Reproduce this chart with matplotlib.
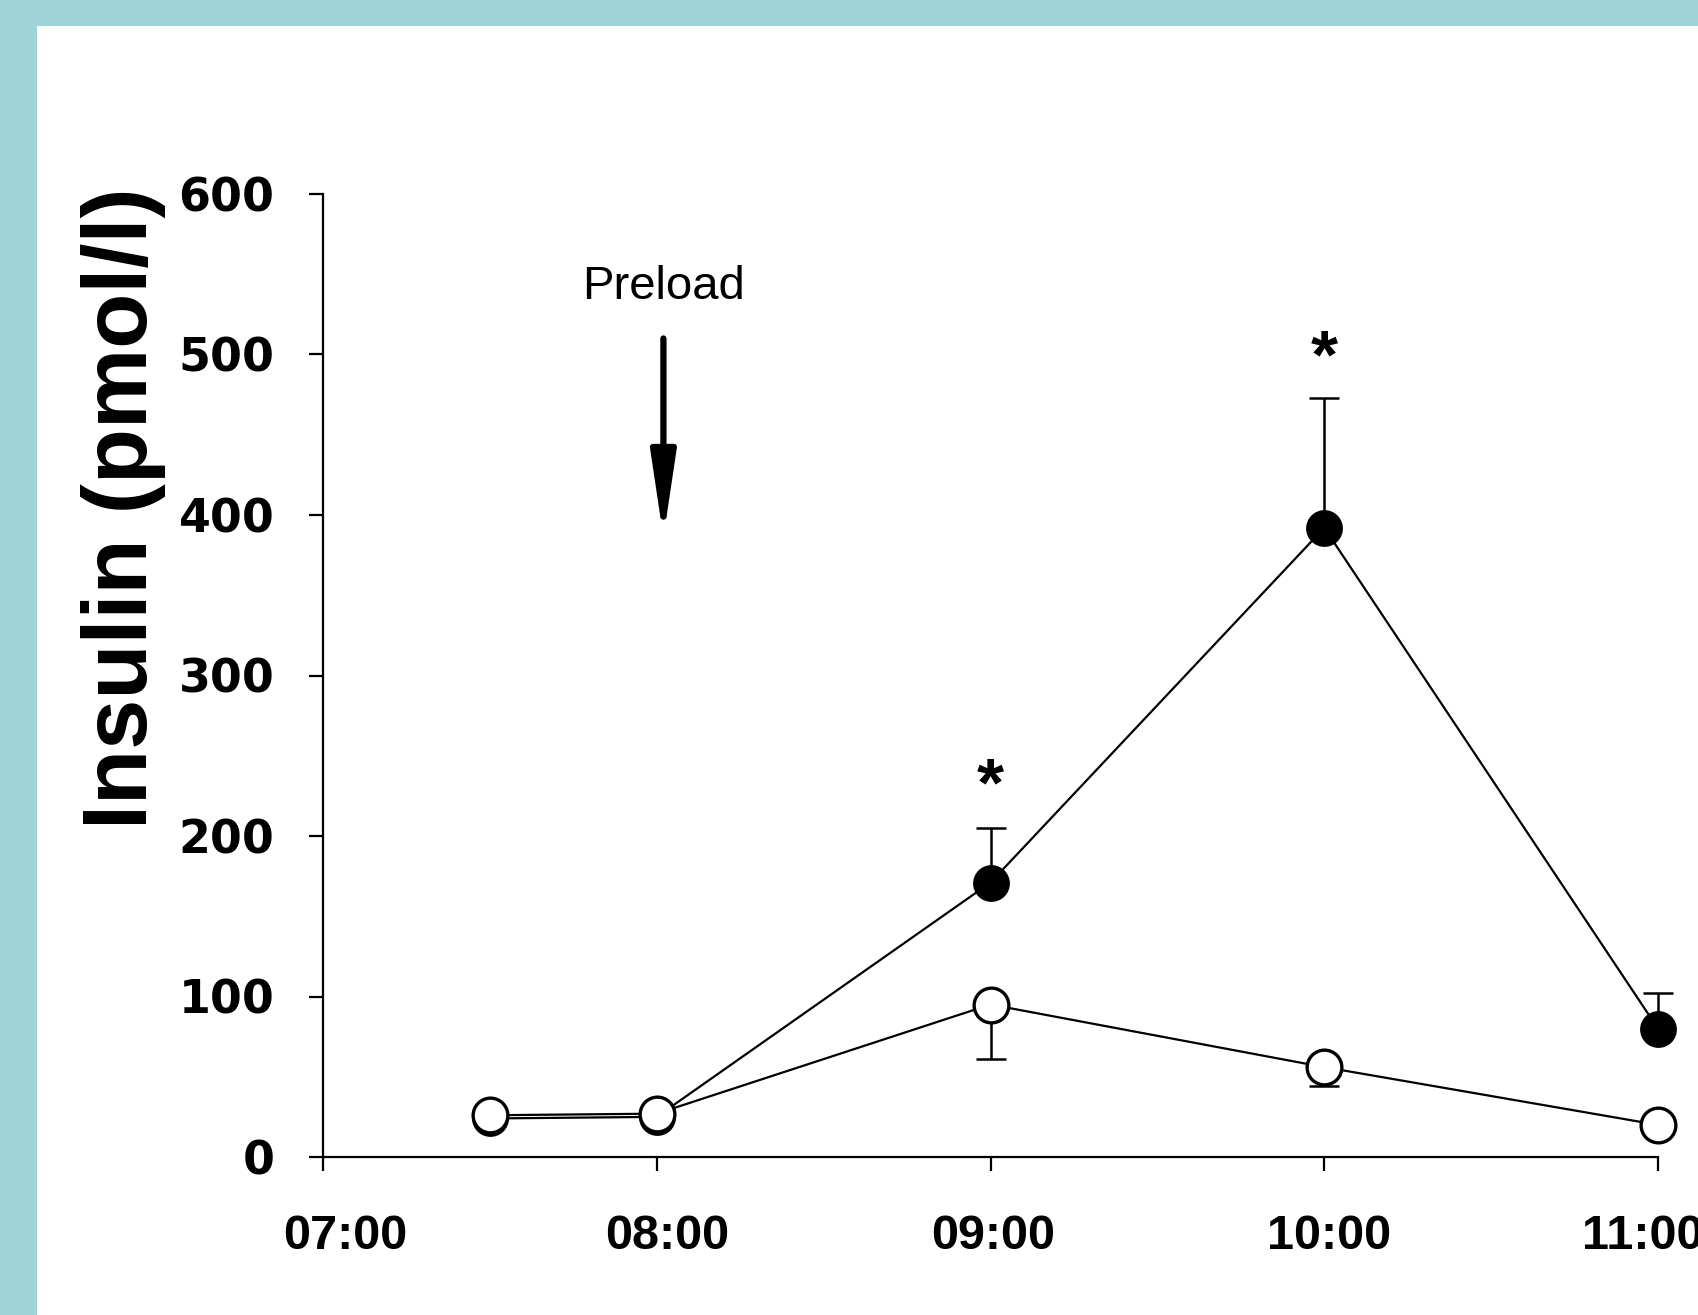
import matplotlib.pyplot as plt
from matplotlib.patches import Rectangle
import matplotlib.transforms as mtransforms

# Values (time in hours, insulin in pmol/l)

times = [7.5, 8, 9, 10, 11]
insulin_filled = [24, 25, 171, 392, 80]
filled_err_up = [0, 0, 34, 81, 22]
insulin_open = [26, 27, 95, 56, 20]
open_err_down = [0, 0, 34, 12, 0]

star_x = [9, 10]
star_y = [236, 503]

xtick_vals = [7, 8, 9, 10, 11]
xtick_labels = ["07:00", "08:00", "09:00", "10:00", "11:00"]
ytick_vals = [0, 100, 200, 300, 400, 500, 600]

W, H = 1698, 1315
fig = plt.figure(figsize=(W / 100, H / 100), dpi=100)
fig.patch.set_facecolor('#9FD4D8')

# white slide area, teal strip left and top
fig.patches.append(Rectangle((37 / W, 0), 1 - 37 / W, 1 - 26 / H,
                             transform=fig.transFigure, facecolor='white',
                             edgecolor='none', zorder=-5))

ax = fig.add_axes([323 / W, 1 - 1157 / H, (1658 - 323) / W, (1157 - 194) / H])
ax.set_facecolor('none')
ax.set_zorder(2)

# filled circles, error bars upward
ax.errorbar(times, insulin_filled, yerr=[[0] * 5, filled_err_up], fmt='none',
            ecolor='black', elinewidth=1.8, capsize=11, capthick=1.8,
            clip_on=False, zorder=2)
ax.plot(times, insulin_filled, color='black', lw=1.6, marker='o', ms=25,
        mfc='black', mec='black', mew=1.5, clip_on=False, zorder=3)

# open circles, error bars downward
ax.errorbar(times, insulin_open, yerr=[open_err_down, [0] * 5], fmt='none',
            ecolor='black', elinewidth=1.8, capsize=11, capthick=1.8,
            clip_on=False, zorder=4)
ax.plot(times, insulin_open, color='black', lw=1.6, marker='o', ms=25,
        mfc='white', mec='black', mew=2.4, clip_on=False, zorder=5)

for sx, sy in zip(star_x, star_y):
    ax.text(sx, sy - 6, "*", ha='center', va='center', fontsize=50,
            fontweight='bold', family='Liberation Sans')

# preload arrow
ax.text(8.02, 542, "Preload", ha='center', va='center', fontsize=34,
        family='Liberation Sans')
ax.annotate('', xy=(8.02, 386), xytext=(8.02, 510),
            arrowprops=dict(arrowstyle='-|>,head_length=50,head_width=7.5',
                            mutation_scale=1, lw=4.5, color='black',
                            shrinkA=0, shrinkB=0, capstyle='round'))

ax.set_xlim(7, 11)
ax.set_ylim(0, 600)
for side in ['top', 'right']:
    ax.spines[side].set_visible(False)
for side in ['left', 'bottom']:
    ax.spines[side].set_linewidth(1.6)

ax.set_xticks(xtick_vals)
ax.set_xticklabels(xtick_labels, fontsize=35, fontweight='bold',
                   family='Liberation Sans')
ax.set_yticks(ytick_vals)
ax.set_yticklabels([str(v) for v in ytick_vals], fontsize=33, fontweight='bold',
                   family='DejaVu Sans')
ax.tick_params(axis='both', direction='out', length=10, width=1.6)
ax.tick_params(axis='x', pad=31)
ax.tick_params(axis='y', pad=25)

# labels in the original slide are not exactly centred on the ticks
label_shift = [22, 10, 3, 5, -15]
for lab, dx in zip(ax.get_xticklabels(), label_shift):
    lab.set_transform(lab.get_transform() +
                      mtransforms.ScaledTranslation(dx / 100, 0, fig.dpi_scale_trans))

fig.text(124 / W, 1 - 508 / H, "Insulin (pmol/l)", rotation=90, ha='center',
         va='center', fontsize=65, fontweight='bold', family='Liberation Sans')

fig.savefig("out.png", dpi=100, facecolor=fig.get_facecolor())
